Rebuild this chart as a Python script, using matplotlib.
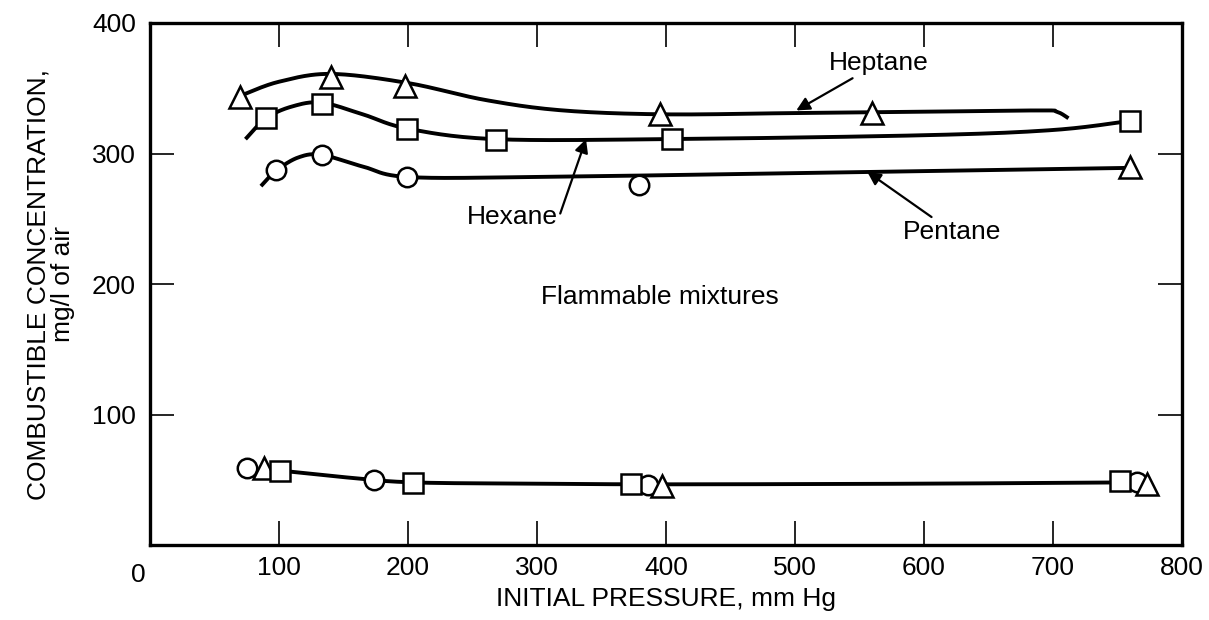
import numpy as np
import matplotlib.pyplot as plt

plt.rcParams['font.family'] = ['Liberation Sans', 'DejaVu Sans']

# measured points (mm Hg, mg/l)
hept_tri_x = [70, 140, 198, 395, 560]
hept_tri_y = [343, 359, 352, 330, 331]
hex_sq_x = [90, 133, 199, 268, 405, 760]
hex_sq_y = [327, 338, 319, 310, 311, 325]
pent_circ_x = [98, 133, 199, 379]
pent_circ_y = [287, 299, 282, 276]
pent_tri_x = [760]
pent_tri_y = [290]

low_circ_x = [75, 174, 386, 765]
low_circ_y = [59, 50, 46, 48]
low_tri_x = [88, 397, 773]
low_tri_y = [59, 45.5, 47]
low_sq_x = [101, 204, 373, 752]
low_sq_y = [57, 47.5, 46.7, 49]

# hand-drawn curves, read as knots
hept_line_x = [72, 100, 140, 200, 260, 320, 400, 500, 600, 690, 703, 712]
hept_line_y = [345, 355, 361, 354, 341, 333, 330, 331, 332, 333, 332, 327]
hex_line_x = [74, 90, 110, 133, 165, 200, 268, 400, 600, 700, 760]
hex_line_y = [311, 327, 336, 339, 330, 319, 311, 311, 314, 318, 325]
pent_line_x = [86, 98, 115, 133, 165, 200, 300, 500, 760]
pent_line_y = [275, 287, 297, 299, 290, 282, 282, 285, 289]
low_line_x = [101, 150, 203, 300, 400, 600, 752, 770]
low_line_y = [57, 52, 48, 47, 46.5, 47, 48, 48]

xticks = [0, 100, 200, 300, 400, 500, 600, 700, 800]
yticks = [100, 200, 300, 400]


def smooth(xs, ys, n=25):
    # catmull-rom through the knots
    p = np.column_stack([xs, ys]).astype(float)
    p = np.vstack([p[0], p, p[-1]])
    out = []
    t = np.linspace(0, 1, n)[:, None]
    for i in range(1, len(p) - 2):
        p0, p1, p2, p3 = p[i - 1], p[i], p[i + 1], p[i + 2]
        seg = 0.5 * ((2 * p1) + (-p0 + p2) * t + (2 * p0 - 5 * p1 + 4 * p2 - p3) * t ** 2
                     + (-p0 + 3 * p1 - 3 * p2 + p3) * t ** 3)
        out.append(seg)
    s = np.vstack(out)
    return s[:, 0], s[:, 1]


fs = 19
fig = plt.figure(figsize=(12.09, 6.2), dpi=100)
ax = fig.add_axes([150 / 1209, 1 - 545 / 620, 1032 / 1209, 522 / 620])

for lx, ly in [(hept_line_x, hept_line_y), (hex_line_x, hex_line_y),
               (pent_line_x, pent_line_y), (low_line_x, low_line_y)]:
    sx, sy = smooth(lx, ly)
    ax.plot(sx, sy, color='black', lw=2.8, solid_capstyle='butt', zorder=2)

mk = dict(linestyle='none', mfc='white', mec='black', mew=1.8, zorder=3)
ax.plot(hept_tri_x, hept_tri_y, marker='^', ms=16, **mk)
ax.plot(hex_sq_x, hex_sq_y, marker='s', ms=14, **mk)
ax.plot(pent_circ_x, pent_circ_y, marker='o', ms=14, **mk)
ax.plot(pent_tri_x, pent_tri_y, marker='^', ms=16, **mk)
ax.plot(low_circ_x, low_circ_y, marker='o', ms=14, **mk)
ax.plot(low_tri_x, low_tri_y, marker='^', ms=16, **mk)
ax.plot(low_sq_x, low_sq_y, marker='s', ms=14, **mk)

arrow = dict(arrowstyle='-|>', color='black', lw=1.6, mutation_scale=20,
             shrinkA=0, shrinkB=0)
ax.annotate('Heptane', xy=(501, 333), xytext=(526, 369), fontsize=fs,
            ha='left', va='center', arrowprops=arrow)
ax.annotate('', xy=(338, 311), xytext=(318, 254), arrowprops=arrow)
ax.text(316, 251, 'Hexane', fontsize=fs, ha='right', va='center')
ax.annotate('Pentane', xy=(556, 286), xytext=(584, 240), fontsize=fs,
            ha='left', va='center', arrowprops=arrow)
ax.text(395, 190, 'Flammable mixtures', fontsize=fs, ha='center', va='center')

ax.set_xlim(0, 800)
ax.set_ylim(0, 400)
ax.set_xticks(xticks)
ax.set_xticklabels([''] + [str(v) for v in xticks[1:]])
ax.set_yticks(yticks)
ax.tick_params(direction='in', length=17, width=1.2, labelsize=fs,
               top=True, right=True, pad=8)
ax.tick_params(axis='y', pad=10)
for sp in ax.spines.values():
    sp.set_linewidth(2.4)
ax.text(-9, -14, '0', fontsize=fs, ha='center', va='top')

ax.set_xlabel('INITIAL PRESSURE, mm Hg', fontsize=fs, labelpad=5)
ax.set_ylabel('COMBUSTIBLE CONCENTRATION,\nmg/l of air', fontsize=fs,
              labelpad=12, linespacing=1.05)

fig.savefig('out.png', dpi=100)
